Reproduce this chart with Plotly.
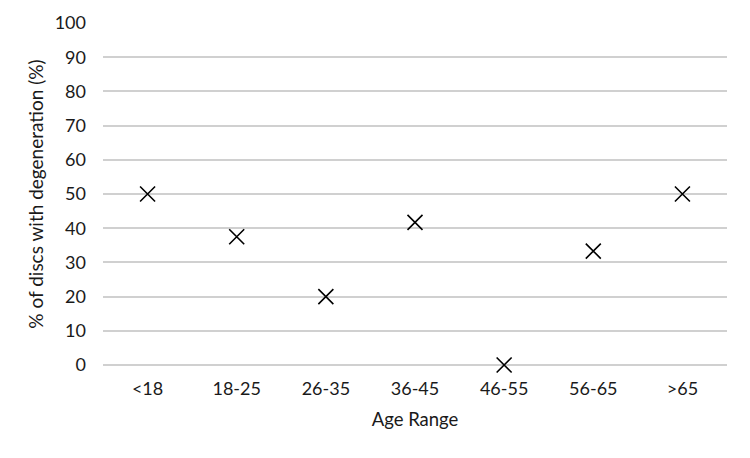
import plotly.graph_objects as go

categories = ["<18", "18-25", "26-35", "36-45", "46-55", "56-65", ">65"]
values = [50, 37.5, 20, 41.7, 0, 33.3, 50]
y_ticks = list(range(0, 101, 10))

fig = go.Figure(go.Scatter(
    x=categories, y=values, mode="markers",
    marker=dict(symbol="x-thin-open", size=15, color="black",
                line=dict(color="black", width=1.6)),
    cliponaxis=False,
))

fig.update_layout(
    width=750, height=458,
    margin=dict(l=103, r=23, t=23, b=93),
    paper_bgcolor="white", plot_bgcolor="white",
    font=dict(family="Lato, Open Sans, sans-serif", size=18, color="#1a1a1a"),
    showlegend=False,
)
fig.update_xaxes(
    type="category", range=[-0.5, 6.5], showgrid=False, zeroline=False,
    showline=False, ticks="", ticklabelstandoff=11,
    title=dict(text="Age Range", standoff=15, font=dict(size=18.5)),
)
fig.update_yaxes(
    range=[0, 100], tickvals=y_ticks, showgrid=True, gridcolor="#d0d0d0",
    gridwidth=1.5, zeroline=True, zerolinecolor="#d0d0d0", zerolinewidth=1.5,
    showline=False, ticks="", ticklabelstandoff=16,
    title=dict(text="% of discs with degeneration (%)", standoff=6, font=dict(size=19)),
)

fig.write_html("out.html")
